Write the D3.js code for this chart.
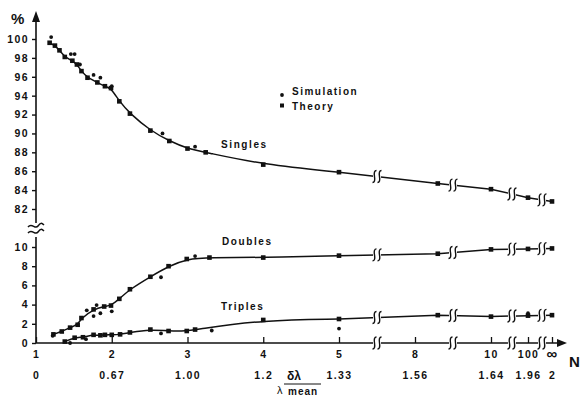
<!DOCTYPE html>
<html>
<head>
<meta charset="utf-8">
<script src="https://cdn.jsdelivr.net/npm/d3@7"></script>
<style>
  body { margin: 0; background: #fff; }
  svg text { font-family: "Liberation Sans", Arial, sans-serif; font-weight: bold; fill: #111; }
</style>
</head>
<body>
<div class="chart"></div>
<script>
// data (N = 1000 stands in for infinity)
var singlesTheoryN = [1.18, 1.25, 1.31, 1.38, 1.48, 1.54, 1.60, 1.68, 1.81, 1.91, 1.99, 2.10, 2.24, 2.51, 2.76, 3.00, 3.24, 4, 5, 8.6, 10, 100, 1000];
var singlesTheory  = [99.6, 99.3, 98.8, 98.1, 97.7, 97.3, 96.6, 95.9, 95.4, 95.0, 94.8, 93.4, 92.1, 90.3, 89.2, 88.4, 88.0, 86.7, 85.9, 84.7, 84.1, 83.2, 82.8];
var singlesSimN = [1.2, 1.46, 1.51, 1.58, 1.76, 1.85, 2.0, 2.67, 3.10];
var singlesSim  = [100.2, 98.4, 98.4, 97.3, 96.2, 95.9, 95.0, 90.0, 88.6];

var doublesTheoryN = [1.23, 1.34, 1.45, 1.55, 1.60, 1.76, 1.90, 1.99, 2.10, 2.24, 2.51, 2.75, 2.99, 3.29, 4, 5, 8.6, 10, 100, 1000];
var doublesTheory  = [0.9, 1.2, 1.6, 1.9, 2.6, 3.5, 3.8, 3.9, 4.6, 5.6, 6.9, 8.0, 8.75, 8.9, 8.9, 9.1, 9.3, 9.75, 9.8, 9.85];
var doublesSimN = [1.22, 1.67, 1.76, 1.80, 1.85, 2.0, 2.65, 3.1];
var doublesSim  = [0.75, 3.4, 2.8, 3.95, 3.1, 3.3, 6.85, 9.05];

var triplesTheoryN = [1.38, 1.51, 1.62, 1.76, 1.85, 1.91, 2.0, 2.11, 2.24, 2.51, 2.75, 2.99, 3.1, 4, 5, 8.6, 10, 100, 1000];
var triplesTheory  = [0.15, 0.55, 0.6, 0.85, 0.8, 0.85, 0.85, 0.9, 1.1, 1.4, 1.25, 1.25, 1.4, 2.4, 2.5, 2.9, 2.75, 2.85, 2.9];
var triplesSimN = [1.45, 1.66, 2.65, 3.32, 5, 100];
var triplesSim  = [0.0, 0.4, 1.0, 1.3, 1.5, 3.1];

var xTicks = [1, 2, 3, 4, 5, 8, 10, 100, 1000];
var xLabels = ["1", "2", "3", "4", "5", "8", "10", "100", "\u221E"];
var ratioLabels = ["0", "0.67", "1.00", "1.2", "1.33", "1.56", "1.64", "1.96", "2"];
var breaksN = [6.5, 9, 61, 625];
var topTicks = [82, 84, 86, 88, 90, 92, 94, 96, 98, 100];
var bottomTicks = [0, 2, 4, 6, 8, 10];

var svgWidth = 582, svgHeight = 396;

var svg = d3.select(".chart").append("svg")
  .attr("width", svgWidth)
  .attr("height", svgHeight);

// piecewise x scale, broken between 5 and infinity
var x = d3.scaleLinear().domain([1, 5, 8, 10, 100, 1000]).range([36, 339, 415, 491, 528, 552]);
var yTop = d3.scaleLinear().domain([82, 100]).range([209, 39]);
var yBot = d3.scaleLinear().domain([0, 10]).range([343, 247]);

var axisX = x(1);

// y axis line (two parts) with arrow and break
svg.append("line").attr("x1", axisX).attr("x2", axisX).attr("y1", 20).attr("y2", 223)
  .attr("stroke", "#111").attr("stroke-width", 1.6);
svg.append("line").attr("x1", axisX).attr("x2", axisX).attr("y1", 237).attr("y2", yBot(0))
  .attr("stroke", "#111").attr("stroke-width", 1.6);
svg.append("path").attr("d", `M${axisX},11 L${axisX - 4},22 L${axisX + 4},22 Z`).attr("fill", "#111");
[226, 232].forEach(function(yy) {
  svg.append("path")
    .attr("d", `M${axisX - 8},${yy + 1} C${axisX - 4},${yy - 4} ${axisX - 1},${yy + 4} ${axisX + 2},${yy} S${axisX + 6},${yy - 3} ${axisX + 8},${yy - 1}`)
    .attr("fill", "none").attr("stroke", "#111").attr("stroke-width", 1.5);
});

svg.append("text").attr("x", 11).attr("y", 24).style("font-size", "15px").text("%");

var topAxis = svg.append("g").attr("transform", `translate(${axisX},0)`)
  .call(d3.axisLeft(yTop).tickValues(topTicks).tickSize(4).tickPadding(3));
var botAxis = svg.append("g").attr("transform", `translate(${axisX},0)`)
  .call(d3.axisLeft(yBot).tickValues(bottomTicks).tickSize(4).tickPadding(3));
[topAxis, botAxis].forEach(function(g) {
  g.select(".domain").remove();
  g.selectAll(".tick line").attr("stroke", "#111").attr("stroke-width", 1.4);
  g.selectAll(".tick text").style("font-size", "10.5px").style("letter-spacing", "1.4px")
    .attr("fill", "#111").style("font-family", "Liberation Sans, Arial, sans-serif").style("font-weight", "bold");
});

// x axis
var xAxisY = yBot(0);
svg.append("line").attr("x1", axisX).attr("x2", 560).attr("y1", xAxisY).attr("y2", xAxisY)
  .attr("stroke", "#111").attr("stroke-width", 1.4);
svg.append("path").attr("d", `M567,${xAxisY} L557,${xAxisY - 4} L557,${xAxisY + 4} Z`).attr("fill", "#111");

var xg = svg.append("g").attr("transform", `translate(0,${xAxisY})`)
  .call(d3.axisBottom(x).tickValues(xTicks).tickSizeInner(-6).tickSizeOuter(0).tickPadding(8)
    .tickFormat(function(d, i) { return xLabels[i]; }));
var xg2 = svg.append("g").attr("transform", `translate(0,${xAxisY})`)
  .call(d3.axisBottom(x).tickValues(xTicks).tickSize(0).tickPadding(29)
    .tickFormat(function(d, i) { return ratioLabels[i]; }));
[xg, xg2].forEach(function(g) {
  g.select(".domain").remove();
  g.selectAll(".tick line").attr("stroke", "#111").attr("stroke-width", 1.3);
  g.selectAll(".tick text").style("font-size", "10.5px").style("letter-spacing", "1.4px")
    .attr("fill", "#111").style("font-family", "Liberation Sans, Arial, sans-serif").style("font-weight", "bold");
});
xg.selectAll(".tick text").filter(function(d) { return d === 1000; }).style("font-size", "15px").attr("dy", "0.55em");

svg.append("text").attr("x", 569).attr("y", 367).style("font-size", "15px").text("N");

// δλ / λmean label
svg.append("text").attr("x", 294).attr("y", 380).attr("text-anchor", "middle").style("font-size", "12px").text("\u03B4\u03BB");
svg.append("line").attr("x1", 284).attr("x2", 321).attr("y1", 384).attr("y2", 384).attr("stroke", "#111").attr("stroke-width", 1);
svg.append("text").attr("x", 277).attr("y", 394).style("font-size", "11px").style("font-weight", "normal").text("\u03BB");
svg.append("text").attr("x", 288).attr("y", 395).style("font-size", "10px").style("letter-spacing", "1px").text("mean");

// series
var series = [
  { name: "Singles", y: yTop, tN: singlesTheoryN, t: singlesTheory, sN: singlesSimN, s: singlesSim, lx: 221, ly: 148 },
  { name: "Doubles", y: yBot, tN: doublesTheoryN, t: doublesTheory, sN: doublesSimN, s: doublesSim, lx: 222, ly: 245 },
  { name: "Triples", y: yBot, tN: triplesTheoryN, t: triplesTheory, sN: triplesSimN, s: triplesSim, lx: 221, ly: 310 }
];

function yAt(sr, n) {
  // linear interpolation along theory points, for break marks
  for (var i = 1; i < sr.tN.length; i++) {
    if (n <= sr.tN[i]) {
      var t = (x(n) - x(sr.tN[i - 1])) / (x(sr.tN[i]) - x(sr.tN[i - 1]));
      return sr.y(sr.t[i - 1]) + t * (sr.y(sr.t[i]) - sr.y(sr.t[i - 1]));
    }
  }
  return sr.y(sr.t[sr.t.length - 1]);
}

function drawBreak(cx, cy) {
  svg.append("rect").attr("x", cx - 4).attr("y", cy - 2).attr("width", 8).attr("height", 4).attr("fill", "#fff");
  [-2.5, 2.5].forEach(function(dx) {
    var bx = cx + dx;
    svg.append("path")
      .attr("d", `M${bx + 2},${cy - 6} Q${bx - 1},${cy - 6} ${bx},${cy} Q${bx + 1},${cy + 6} ${bx - 2},${cy + 6}`)
      .attr("fill", "none").attr("stroke", "#111").attr("stroke-width", 1.4);
  });
}

series.forEach(function(sr) {
  var pts = sr.tN.map(function(n, i) { return [n, sr.t[i]]; });
  var smooth = pts.filter(function(p) { return p[0] <= 5; });
  var straight = pts.filter(function(p) { return p[0] >= 5; });
  var line = d3.line().x(function(p) { return x(p[0]); }).y(function(p) { return sr.y(p[1]); });

  svg.append("path").attr("d", line.curve(d3.curveBasis)(smooth))
    .attr("fill", "none").attr("stroke", "#111").attr("stroke-width", 1.5);
  svg.append("path").attr("d", line.curve(d3.curveLinear)(straight))
    .attr("fill", "none").attr("stroke", "#111").attr("stroke-width", 1.5);

  breaksN.forEach(function(b) { drawBreak(x(b), yAt(sr, b)); });

  svg.selectAll(null).data(pts).enter().append("rect")
    .attr("x", function(p) { return x(p[0]) - 2.3; })
    .attr("y", function(p) { return sr.y(p[1]) - 2.3; })
    .attr("width", 4.6).attr("height", 4.6).attr("fill", "#111");

  svg.selectAll(null).data(sr.sN.map(function(n, i) { return [n, sr.s[i]]; })).enter().append("circle")
    .attr("cx", function(p) { return x(p[0]); })
    .attr("cy", function(p) { return sr.y(p[1]); })
    .attr("r", 1.9).attr("fill", "#111");

  svg.append("text").attr("x", sr.lx).attr("y", sr.ly).style("font-size", "10px")
    .style("letter-spacing", "1.6px").text(sr.name);
});

// breaks on x axis
breaksN.forEach(function(b) { drawBreak(x(b), xAxisY); });

// legend
svg.append("circle").attr("cx", 282).attr("cy", 95).attr("r", 1.9).attr("fill", "#111");
svg.append("rect").attr("x", 280).attr("y", 103.5).attr("width", 4).attr("height", 4).attr("fill", "#111");
svg.append("text").attr("x", 292).attr("y", 95).style("font-size", "10px").style("letter-spacing", "1.5px").text("Simulation");
svg.append("text").attr("x", 292).attr("y", 110).style("font-size", "10px").style("letter-spacing", "1.5px").text("Theory");
</script>
</body>
</html>
